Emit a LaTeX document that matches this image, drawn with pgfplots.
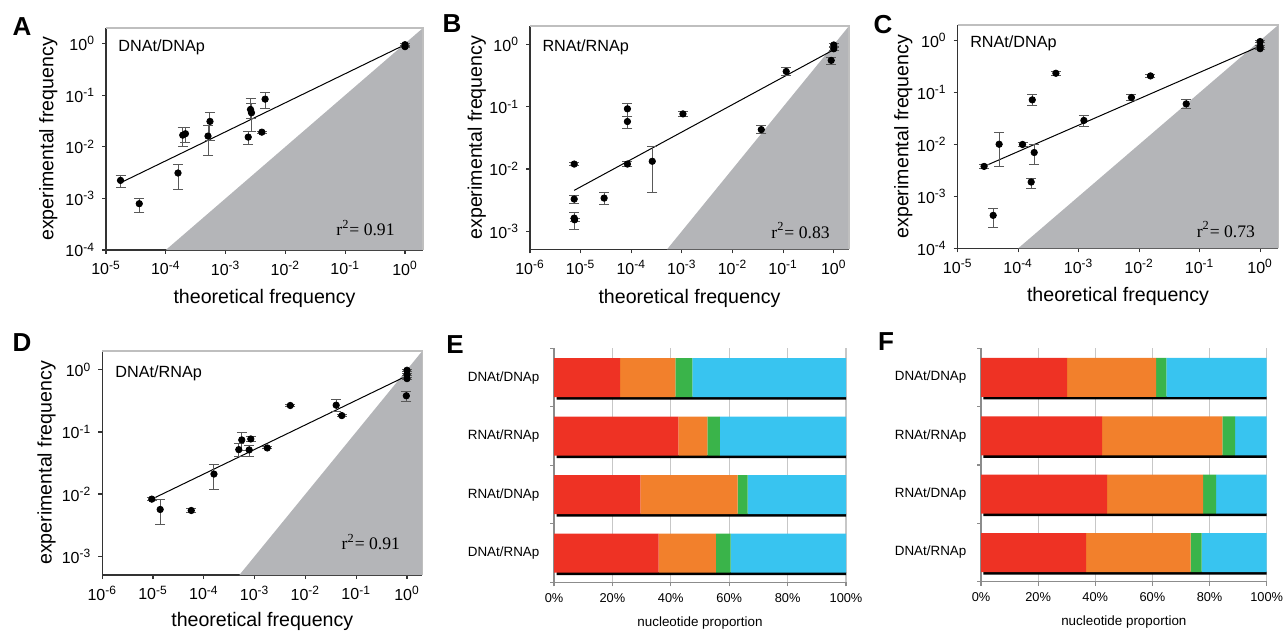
\documentclass[border=0pt]{standalone}
\usepackage{fontspec}
\setmainfont{Liberation Sans}
\newfontfamily\serifr{Liberation Serif}
\usepackage{pgfplots}
\usepackage{pgfplotstable}
\pgfplotsset{compat=1.18}

\definecolor{cRed}{HTML}{EE3224}
\definecolor{cOrange}{HTML}{F2802C}
\definecolor{cGreen}{HTML}{3AB44A}
\definecolor{cBlue}{HTML}{38C4F0}
\definecolor{shadegray}{HTML}{B4B5B8}

\newcommand\logtl{10\textsuperscript{\pgfmathprintnumber[fixed,precision=0,assume math mode=true]{\tick}}}

\pgfplotstableread{
x y ep em
1.75e-5 2.23e-3 0.60e-3 0.62e-3
3.6e-5 7.9e-4 2.1e-4 2.5e-4
1.6e-4 3.1e-3 1.5e-3 1.6e-3
1.92e-4 0.0168 0.0065 0.0068
2.13e-4 0.0179 0.0054 0.0060
5.08e-4 0.0161 0.0098 0.0093
5.48e-4 0.031 0.0159 0.0176
2.39e-3 0.0154 0.0041 0.0045
2.61e-3 0.0528 0.033 0.018
2.71e-3 0.0455 0.0235 0.0255
4.04e-3 0.0192 0.001 0.001
4.58e-3 0.0837 0.027 0.0285
1.0 0.95 0.03 0.03
1.0 0.87 0.02 0.02
}\dataA

\pgfplotstableread{
x y ep em
7.46e-6 0.012 0.0008 0.0008
7.46e-6 3.28e-3 0.48e-3 0.52e-3
7.46e-6 1.62e-3 0.40e-3 0.54e-3
7.6e-6 1.52e-3 0.1e-3 0.1e-3
2.91e-5 3.4e-3 0.8e-3 0.74e-3
8.4e-5 0.0929 0.0201 0.0222
8.4e-5 0.058 0.0127 0.0138
8.4e-5 0.012 0.001 0.001
2.6e-4 0.0133 0.0093 0.0091
1.05e-3 0.077 0.008 0.008
0.037 0.043 0.007 0.006
0.115 0.371 0.065 0.055
0.89 0.559 0.074 0.077
1.0 0.99 0.05 0.05
1.0 0.86 0.04 0.04
}\dataB

\pgfplotstableread{
x y ep em
2.73e-5 3.78e-3 0.42e-3 0.38e-3
3.86e-5 4.31e-4 1.66e-4 1.74e-4
4.84e-5 0.0101 0.0069 0.0064
1.18e-4 0.0100 0.0008 0.0007
1.71e-4 0.0723 0.0193 0.0161
1.64e-4 1.89e-3 0.36e-3 0.44e-3
1.84e-4 7.0e-3 3.1e-3 2.9e-3
4.2e-4 0.235 0.02 0.02
1.22e-3 0.029 0.0066 0.0071
7.46e-3 0.0801 0.0105 0.0092
0.0154 0.209 0.01 0.01
0.060 0.0605 0.0128 0.0113
1.0 0.96 0.03 0.03
1.0 0.77 0.03 0.03
1.0 0.70 0.03 0.03
}\dataC

\pgfplotstableread{
x y ep em
9.44e-6 8.3e-3 0.4e-3 0.4e-3
1.38e-5 5.66e-3 2.64e-3 2.46e-3
5.65e-5 5.45e-3 0.45e-3 0.35e-3
1.58e-4 0.021 0.009 0.0093
4.87e-4 0.0519 0.0121 0.0119
5.58e-4 0.0743 0.0245 0.0243
8.4e-4 0.077 0.007 0.007
7.8e-4 0.0513 0.0097 0.0113
1.77e-3 0.0552 0.002 0.002
5.03e-3 0.266 0.01 0.01
0.0403 0.269 0.067 0.056
0.052 0.183 0.008 0.008
0.97 0.381 0.072 0.076
1.0 0.98 0.03 0.03
1.0 0.84 0.03 0.03
1.0 0.72 0.03 0.03
}\dataD

\begin{document}
\begin{tikzpicture}
\useasboundingbox (0,0) rectangle (642pt,316pt);

% ---------- A ----------
\begin{axis}[at={(53pt,191pt)}, anchor=south west, scale only axis, width=158.5pt, height=111pt,
  xmode=log, ymode=log, log basis x=10, log basis y=10,
  xmin=1e-5, xmax=2, ymin=1e-4, ymax=2,
  axis x line*=bottom, axis y line*=left,
  axis line style={-, line width=0.6pt, black!80},
  tick style={black!80, line width=0.6pt},
  tick align=outside, major tick length=2pt,
  xminorticks=false, yminorticks=false, clip=false,
  ticklabel style={font=\fontsize{8}{9}\selectfont},
  xticklabel={\logtl}, yticklabel={\logtl},
  xtick={1e-5,1e-4,1e-3,1e-2,1e-1,1}, ytick={1e-4,1e-3,1e-2,1e-1,1},
  xlabel={theoretical frequency}, ylabel={experimental frequency},
  label style={font=\fontsize{9.8}{11}\selectfont},
  xlabel style={at={(axis description cs:0.5,-0.216)}, anchor=center},
  ylabel style={at={(axis description cs:-0.182,0.5)}, anchor=center}]
\addplot[fill=shadegray, draw=none] coordinates {(1e-4,1e-4) (2,1e-4) (2,2)};
\draw[black!25, line width=0.6pt] (rel axis cs:0,1) -- (rel axis cs:1,1) -- (rel axis cs:1,0);
\addplot[black, line width=0.5pt] coordinates {(1.9e-5,2.1e-3) (1,0.95)};
\addplot[only marks, mark=*, mark size=1.6pt, mark options={black, fill=black},
  error bars/y dir=both, error bars/y explicit,
  error bars/error bar style={black!65, line width=0.5pt},
  error bars/error mark options={rotate=90, black!65, mark size=2.5pt, line width=0.5pt}]
  table[x=x, y=y, y error plus=ep, y error minus=em] {\dataA};
\node[anchor=west, inner sep=0pt, font=\fontsize{8.1}{9}\selectfont] at (rel axis cs:0.038,0.914) {DNAt/DNAp};
\node[anchor=east, inner sep=0pt, font=\serifr\fontsize{8.8}{9}\selectfont, xshift=-14pt, yshift=11pt] at (rel axis cs:1,0) {r\textsuperscript{2}= 0.91};
\end{axis}

% ---------- B ----------
\begin{axis}[at={(265pt,191.35pt)}, anchor=south west, scale only axis, width=159.5pt, height=111.65pt,
  xmode=log, ymode=log, log basis x=10, log basis y=10,
  xmin=1e-6, xmax=2, ymin=5.1e-4, ymax=2,
  axis x line*=bottom, axis y line*=left,
  axis line style={-, line width=0.6pt, black!80},
  tick style={black!80, line width=0.6pt},
  tick align=outside, major tick length=2pt,
  xminorticks=false, yminorticks=false, clip=false,
  ticklabel style={font=\fontsize{8}{9}\selectfont},
  xticklabel={\logtl}, yticklabel={\logtl},
  xtick={1e-6,1e-5,1e-4,1e-3,1e-2,1e-1,1}, ytick={1e-3,1e-2,1e-1,1},
  xlabel={theoretical frequency}, ylabel={experimental frequency},
  label style={font=\fontsize{9.8}{11}\selectfont},
  xlabel style={at={(axis description cs:0.5,-0.218)}, anchor=center},
  ylabel style={at={(axis description cs:-0.167,0.5)}, anchor=center}]
\addplot[fill=shadegray, draw=none] coordinates {(5.1e-4,5.1e-4) (2,5.1e-4) (2,2)};
\draw[black!25, line width=0.6pt] (rel axis cs:0,1) -- (rel axis cs:1,1) -- (rel axis cs:1,0);
\addplot[black, line width=0.5pt] coordinates {(7.46e-6,4.53e-3) (0.97,0.82)};
\addplot[only marks, mark=*, mark size=1.6pt, mark options={black, fill=black},
  error bars/y dir=both, error bars/y explicit,
  error bars/error bar style={black!65, line width=0.5pt},
  error bars/error mark options={rotate=90, black!65, mark size=2.5pt, line width=0.5pt}]
  table[x=x, y=y, y error plus=ep, y error minus=em] {\dataB};
\node[anchor=west, inner sep=0pt, font=\fontsize{8.1}{9}\selectfont] at (rel axis cs:0.038,0.906) {RNAt/RNAp};
\node[anchor=east, inner sep=0pt, font=\serifr\fontsize{8.8}{9}\selectfont, xshift=-9.5pt, yshift=9.5pt] at (rel axis cs:1,0) {r\textsuperscript{2}= 0.83};
\end{axis}

% ---------- C ----------
\begin{axis}[at={(478.85pt,191.85pt)}, anchor=south west, scale only axis, width=160.3pt, height=111.65pt,
  xmode=log, ymode=log, log basis x=10, log basis y=10,
  xmin=1e-5, xmax=2, ymin=1e-4, ymax=2,
  axis x line*=bottom, axis y line*=left,
  axis line style={-, line width=0.6pt, black!80},
  tick style={black!80, line width=0.6pt},
  tick align=outside, major tick length=2pt,
  xminorticks=false, yminorticks=false, clip=false,
  ticklabel style={font=\fontsize{8}{9}\selectfont},
  xticklabel={\logtl}, yticklabel={\logtl},
  xtick={1e-5,1e-4,1e-3,1e-2,1e-1,1}, ytick={1e-4,1e-3,1e-2,1e-1,1},
  xlabel={theoretical frequency}, ylabel={experimental frequency},
  label style={font=\fontsize{9.8}{11}\selectfont},
  xlabel style={at={(axis description cs:0.5,-0.217)}, anchor=center},
  ylabel style={at={(axis description cs:-0.170,0.5)}, anchor=center}]
\addplot[fill=shadegray, draw=none] coordinates {(1e-4,1e-4) (2,1e-4) (2,2)};
\draw[black!25, line width=0.6pt] (rel axis cs:0,1) -- (rel axis cs:1,1) -- (rel axis cs:1,0);
\addplot[black, line width=0.5pt] coordinates {(2.73e-5,3.78e-3) (0.96,0.77)};
\addplot[only marks, mark=*, mark size=1.6pt, mark options={black, fill=black},
  error bars/y dir=both, error bars/y explicit,
  error bars/error bar style={black!65, line width=0.5pt},
  error bars/error mark options={rotate=90, black!65, mark size=2.5pt, line width=0.5pt}]
  table[x=x, y=y, y error plus=ep, y error minus=em] {\dataC};
\node[anchor=west, inner sep=0pt, font=\fontsize{8.1}{9}\selectfont] at (rel axis cs:0.038,0.919) {RNAt/DNAp};
\node[anchor=east, inner sep=0pt, font=\serifr\fontsize{8.8}{9}\selectfont, xshift=-11.5pt, yshift=9.5pt] at (rel axis cs:1,0) {r\textsuperscript{2}= 0.73};
\end{axis}

% ---------- D ----------
\begin{axis}[at={(51.15pt,28.5pt)}, anchor=south west, scale only axis, width=160pt, height=112pt,
  xmode=log, ymode=log, log basis x=10, log basis y=10,
  xmin=1e-6, xmax=2, ymin=5e-4, ymax=2,
  axis x line*=bottom, axis y line*=left,
  axis line style={-, line width=0.6pt, black!80},
  tick style={black!80, line width=0.6pt},
  tick align=outside, major tick length=2pt,
  xminorticks=false, yminorticks=false, clip=false,
  ticklabel style={font=\fontsize{8}{9}\selectfont},
  xticklabel={\logtl}, yticklabel={\logtl},
  xtick={1e-6,1e-5,1e-4,1e-3,1e-2,1e-1,1}, ytick={1e-3,1e-2,1e-1,1},
  xlabel={theoretical frequency}, ylabel={experimental frequency},
  label style={font=\fontsize{9.8}{11}\selectfont},
  xlabel style={at={(axis description cs:0.5,-0.208)}, anchor=center},
  ylabel style={at={(axis description cs:-0.174,0.5)}, anchor=center}]
\addplot[fill=shadegray, draw=none] coordinates {(5e-4,5e-4) (2,5e-4) (2,2)};
\draw[black!25, line width=0.6pt] (rel axis cs:0,1) -- (rel axis cs:1,1) -- (rel axis cs:1,0);
\addplot[black, line width=0.5pt] coordinates {(9.44e-6,8.3e-3) (0.94,0.78)};
\addplot[only marks, mark=*, mark size=1.6pt, mark options={black, fill=black},
  error bars/y dir=both, error bars/y explicit,
  error bars/error bar style={black!65, line width=0.5pt},
  error bars/error mark options={rotate=90, black!65, mark size=2.5pt, line width=0.5pt}]
  table[x=x, y=y, y error plus=ep, y error minus=em] {\dataD};
\node[anchor=west, inner sep=0pt, font=\fontsize{8.1}{9}\selectfont] at (rel axis cs:0.04,0.902) {DNAt/RNAp};
\node[anchor=east, inner sep=0pt, font=\serifr\fontsize{8.8}{9}\selectfont, xshift=-11pt, yshift=16.5pt] at (rel axis cs:1,0) {r\textsuperscript{2}= 0.91};
\end{axis}

% ---------- E ----------
\begin{axis}[at={(277pt,24.85pt)}, anchor=south west, scale only axis, width=146pt, height=117pt,
  xmin=0, xmax=100, ymin=-0.5, ymax=3.5,
  axis x line*=bottom, axis y line*=left, axis line style={-, black!45, line width=0.6pt},
  xmajorgrids, grid style={black!22, line width=0.6pt},
  xtick={0,20,40,60,80,100}, xticklabels={0\%,20\%,40\%,60\%,80\%,100\%},
  ytick={0,1,2,3}, yticklabels={DNAt/RNAp,RNAt/DNAp,RNAt/RNAp,DNAt/DNAp},
  minor ytick={-0.5,0.5,1.5,2.5,3.5},
  tick align=outside, major tick length=2pt, minor tick length=2pt,
  major y tick style={draw=none},
  minor y tick style={black!45, line width=0.6pt},
  major x tick style={black!45, line width=0.6pt},
  xticklabel style={font=\fontsize{6.4}{7}\selectfont},
  yticklabel style={font=\fontsize{6.7}{7}\selectfont, xshift=-1.8pt},
  xlabel={nucleotide proportion},
  xlabel style={font=\fontsize{6.7}{7}\selectfont, at={(axis description cs:0.5,-0.175)}, anchor=center},
  xbar stacked, bar width=1.5pt]
\addplot[draw=none, fill=none] coordinates {(0.9,-0.351) (0.9,0.649) (0.9,1.649) (0.9,2.649)};
\addplot[fill=black, draw=none] coordinates {(99.4,-0.351) (99.4,0.649) (99.4,1.649) (99.4,2.649)};
\end{axis}
\begin{axis}[at={(277pt,24.85pt)}, anchor=south west, scale only axis, width=146pt, height=117pt,
  xmin=0, xmax=100, ymin=-0.5, ymax=3.5, hide axis, xbar stacked, bar width=19.5pt]
\addplot[fill=cRed, draw=none] coordinates {(35.8,0) (29.6,1) (42.6,2) (22.6,3)};
\addplot[fill=cOrange, draw=none] coordinates {(19.6,0) (33.3,1) (9.9,2) (19.0,3)};
\addplot[fill=cGreen, draw=none] coordinates {(5.1,0) (3.4,1) (4.3,2) (5.8,3)};
\addplot[fill=cBlue, draw=none] coordinates {(39.5,0) (33.7,1) (43.2,2) (52.6,3)};
\end{axis}

% ---------- F ----------
\begin{axis}[at={(490.5pt,25.15pt)}, anchor=south west, scale only axis, width=142.85pt, height=116.7pt,
  xmin=0, xmax=100, ymin=-0.5, ymax=3.5,
  axis x line*=bottom, axis y line*=left, axis line style={-, black!45, line width=0.6pt},
  xmajorgrids, grid style={black!22, line width=0.6pt},
  xtick={0,20,40,60,80,100}, xticklabels={0\%,20\%,40\%,60\%,80\%,100\%},
  ytick={0,1,2,3}, yticklabels={DNAt/RNAp,RNAt/DNAp,RNAt/RNAp,DNAt/DNAp},
  minor ytick={-0.5,0.5,1.5,2.5,3.5},
  tick align=outside, major tick length=2pt, minor tick length=2pt,
  major y tick style={draw=none},
  minor y tick style={black!45, line width=0.6pt},
  major x tick style={black!45, line width=0.6pt},
  xticklabel style={font=\fontsize{6.4}{7}\selectfont},
  yticklabel style={font=\fontsize{6.7}{7}\selectfont, xshift=-1.8pt},
  xlabel={nucleotide proportion},
  xlabel style={font=\fontsize{6.7}{7}\selectfont, at={(axis description cs:0.5,-0.171)}, anchor=center},
  xbar stacked, bar width=1.5pt]
\addplot[draw=none, fill=none] coordinates {(0.8,-0.351) (0.8,0.649) (0.8,1.649) (0.8,2.649)};
\addplot[fill=black, draw=none] coordinates {(99.5,-0.351) (99.5,0.649) (99.5,1.649) (99.5,2.649)};
\end{axis}
\begin{axis}[at={(490.5pt,25.15pt)}, anchor=south west, scale only axis, width=142.85pt, height=116.7pt,
  xmin=0, xmax=100, ymin=-0.5, ymax=3.5, hide axis, xbar stacked, bar width=19.5pt]
\addplot[fill=cRed, draw=none] coordinates {(36.8,0) (44.1,1) (42.4,2) (30.1,3)};
\addplot[fill=cOrange, draw=none] coordinates {(36.6,0) (33.6,1) (42.1,2) (31.2,3)};
\addplot[fill=cGreen, draw=none] coordinates {(3.8,0) (4.6,1) (4.4,2) (3.6,3)};
\addplot[fill=cBlue, draw=none] coordinates {(22.8,0) (17.7,1) (11.1,2) (35.1,3)};
\end{axis}

% ---------- panel letters ----------
\node[font=\bfseries\fontsize{13}{15}\selectfont] at (11pt,302.5pt) {A};
\node[font=\bfseries\fontsize{13}{15}\selectfont] at (226pt,304pt) {B};
\node[font=\bfseries\fontsize{13}{15}\selectfont] at (441.5pt,303.5pt) {C};
\node[font=\bfseries\fontsize{13}{15}\selectfont] at (11pt,144.5pt) {D};
\node[font=\bfseries\fontsize{13}{15}\selectfont] at (227.5pt,143.5pt) {E};
\node[font=\bfseries\fontsize{13}{15}\selectfont] at (443pt,145pt) {F};
\end{tikzpicture}
\end{document}
